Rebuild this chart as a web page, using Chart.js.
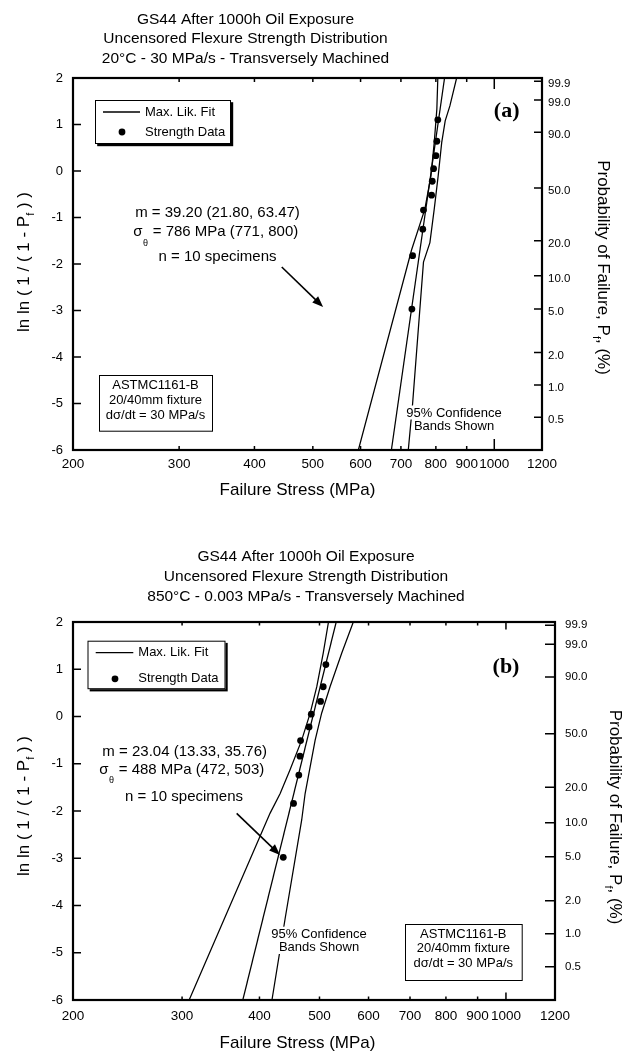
<!DOCTYPE html>
<html><head><meta charset="utf-8">
<script src="https://cdn.jsdelivr.net/npm/chart.js@4.4.1/dist/chart.umd.min.js"></script>
<style>
html,body{margin:0;padding:0;background:#fff;}
#wrap{position:relative;width:636px;height:1055px;background:#fff;}
canvas{position:absolute;left:0;}
</style></head><body>
<div id="wrap">
<canvas id="ca" width="636" height="525" style="top:0px"></canvas>
<canvas id="cb" width="636" height="530" style="top:525px"></canvas>
</div>
<script>
// ---------- shared axis data ----------
const xTickValues = [200, 300, 400, 500, 600, 700, 800, 900, 1000, 1200];
const xTickLabels = ['200', '300', '400', '500', '600', '700', '800', '900', '1000', '1200'];
const yTickValues = [-6, -5, -4, -3, -2, -1, 0, 1, 2];
const yTickLabels = ['-6', '-5', '-4', '-3', '-2', '-1', '0', '1', '2'];
const probTickPercent = [99.9, 99.0, 90.0, 50.0, 20.0, 10.0, 5.0, 2.0, 1.0, 0.5];
const probTickLabels = ['99.9', '99.0', '90.0', '50.0', '20.0', '10.0', '5.0', '2.0', '1.0', '0.5'];

// ---------- chart (a): 20°C - 30 MPa/s ----------
const aDataStress = [730, 732, 761, 763, 787, 789, 793, 800, 803, 806];
const aDataLnLn   = [-2.97, -1.82, -1.25, -0.84, -0.52, -0.22, 0.05, 0.33, 0.64, 1.10];
const aFitStress  = [675, 827];
const aFitLnLn    = [-6, 2];
const aLowStress  = [595, 729, 767, 785, 795, 803, 806];
const aLowLnLn    = [-6, -1.70, -0.82, -0.11, 0.61, 1.33, 2];
const aUpStress   = [720, 732, 763, 782, 795, 807, 818, 829, 844, 866];
const aUpLnLn     = [-6, -5.0, -1.96, -1.54, -0.82, -0.11, 0.61, 1.08, 1.40, 2];

// ---------- chart (b): 850°C - 0.003 MPa/s ----------
const bDataStress = [437, 454, 463, 465, 466, 481, 485, 502, 507, 512];
const bDataLnLn   = [-2.98, -1.84, -1.24, -0.84, -0.51, -0.22, 0.05, 0.32, 0.63, 1.10];
const bFitStress  = [376, 532];
const bFitLnLn    = [-6, 2];
const bLowStress  = [308, 416, 432, 448, 468, 483, 495, 507, 517];
const bLowLnLn    = [-6, -2.05, -1.63, -1.13, -0.50, 0.07, 0.63, 1.34, 2];
const bUpStress   = [419, 440, 468, 474, 483, 492, 504, 520, 543, 567];
const bUpLnLn     = [-6, -4.28, -2.19, -1.63, -1.06, -0.50, 0.07, 0.63, 1.34, 2];

const probTickValues = probTickPercent.map(p => Math.log(-Math.log(1 - p / 100)));

const FONT = '"Liberation Sans", Arial, Helvetica, sans-serif';
const SERIF = '"Liberation Serif", "Times New Roman", serif';

function rich(ctx, parts, cx, cy, rot, size) {
  ctx.save();
  ctx.translate(cx, cy);
  ctx.rotate(rot);
  let tot = 0; const ws = [];
  parts.forEach(p => {
    ctx.font = (p.sub ? size * 0.65 : size) + 'px ' + FONT;
    const w = ctx.measureText(p.t).width; ws.push(w); tot += w;
  });
  let x = -tot / 2;
  ctx.textAlign = 'left'; ctx.textBaseline = 'middle';
  parts.forEach((p, i) => {
    ctx.font = (p.sub ? size * 0.65 : size) + 'px ' + FONT;
    ctx.fillText(p.t, x, p.sub ? size * 0.38 : 0);
    x += ws[i];
  });
  ctx.restore();
}

function decoPlugin(d) {
  return {
    id: 'deco',
    afterDatasetsDraw(chart) {
      const ctx = chart.ctx, a = chart.chartArea;
      const xs = chart.scales.x, yl = chart.scales.y, yr = chart.scales.yR;
      ctx.save();
      ctx.strokeStyle = '#000'; ctx.fillStyle = '#000';
      // inward tick marks
      ctx.lineWidth = 1.5;
      ctx.beginPath();
      yl.ticks.forEach(t => { const p = yl.getPixelForValue(t.value); ctx.moveTo(a.left, p); ctx.lineTo(a.left + d.yTickLen, p); });
      yr.ticks.forEach(t => { const p = yr.getPixelForValue(t.value); ctx.moveTo(a.right, p); ctx.lineTo(a.right - d.rTickLen, p); });
      xs.ticks.forEach(t => {
        const p = xs.getPixelForValue(t.value);
        const L = t.value === 1000 ? d.xMajorLen : d.xTickLen;
        ctx.moveTo(p, a.bottom); ctx.lineTo(p, a.bottom - L);
        ctx.moveTo(p, a.top); ctx.lineTo(p, a.top + L);
      });
      ctx.stroke();
      // frame
      ctx.lineWidth = 2.2;
      ctx.strokeRect(a.left, a.top, a.right - a.left, a.bottom - a.top);

      // titles
      ctx.textAlign = 'center'; ctx.textBaseline = 'middle';
      ctx.font = d.titleSize + 'px ' + FONT;
      d.titles.forEach((t, i) => ctx.fillText(t, d.titleX, d.titleY[i]));

      // axis titles
      rich(ctx, [{t: 'ln ln ( 1 / ( 1 - P'}, {t: 'f', sub: true}, {t: ' ) )'}], d.yTitle.x, d.yTitle.y, -Math.PI / 2, 17);
      rich(ctx, [{t: 'Probability of Failure, P'}, {t: 'f', sub: true}, {t: ', (%)'}], d.rTitle.x, d.rTitle.y, Math.PI / 2, 17);
      ctx.font = '17px ' + FONT; ctx.textAlign = 'center'; ctx.textBaseline = 'middle';
      ctx.fillText('Failure Stress (MPa)', d.xTitle.x, d.xTitle.y);

      // legend box with shadow
      const L = d.legend;
      ctx.fillStyle = '#000';
      ctx.fillRect(L.x + 2.2, L.y + 2.2, L.w, L.h);
      ctx.fillStyle = '#fff';
      ctx.fillRect(L.x, L.y, L.w, L.h);
      ctx.lineWidth = 1; ctx.strokeStyle = '#000';
      ctx.strokeRect(L.x + 0.5, L.y + 0.5, L.w - 1, L.h - 1);
      ctx.fillStyle = '#000';
      ctx.lineWidth = 1.3;
      ctx.beginPath(); ctx.moveTo(L.lineX1, L.row1); ctx.lineTo(L.lineX2, L.row1); ctx.stroke();
      ctx.beginPath(); ctx.arc(L.dotX, L.row2, 3.4, 0, Math.PI * 2); ctx.fill();
      ctx.font = '13px ' + FONT; ctx.textAlign = 'left'; ctx.textBaseline = 'middle';
      ctx.fillText('Max. Lik. Fit', L.textX, L.row1);
      ctx.fillText('Strength Data', L.textX, L.row2);

      // statistics text
      const S = d.stats;
      ctx.font = '15px ' + FONT; ctx.textAlign = 'center';
      ctx.fillText(d.mText, S.mX, S.mY);
      ctx.fillText('n = 10 specimens', S.nX, S.nY);
      ctx.textAlign = 'left';
      ctx.fillText('σ', S.sX, S.sY);
      const w1 = ctx.measureText('σ').width;
      ctx.font = '9px ' + FONT;
      ctx.fillText('θ', S.sX + w1 + 0.5, S.sY + S.subDy);
      const w2 = ctx.measureText('θ').width;
      ctx.font = '15px ' + FONT;
      ctx.fillText(d.sText, S.sX + w1 + w2 + 1, S.sY);

      // arrow (data coordinates)
      const ar = d.arrow;
      const x1 = xs.getPixelForValue(ar.x1), y1 = yl.getPixelForValue(ar.y1);
      const x2 = xs.getPixelForValue(ar.x2), y2 = yl.getPixelForValue(ar.y2);
      const ang = Math.atan2(y2 - y1, x2 - x1);
      const hl = 11, hw = 4.2;
      ctx.lineWidth = 1.6;
      ctx.beginPath(); ctx.moveTo(x1, y1);
      ctx.lineTo(x2 - hl * 0.8 * Math.cos(ang), y2 - hl * 0.8 * Math.sin(ang)); ctx.stroke();
      ctx.beginPath();
      ctx.moveTo(x2, y2);
      ctx.lineTo(x2 - hl * Math.cos(ang) + hw * Math.sin(ang), y2 - hl * Math.sin(ang) - hw * Math.cos(ang));
      ctx.lineTo(x2 - hl * Math.cos(ang) - hw * Math.sin(ang), y2 - hl * Math.sin(ang) + hw * Math.cos(ang));
      ctx.closePath(); ctx.fill();

      // ASTM box
      const B = d.astm;
      ctx.fillStyle = '#fff'; ctx.fillRect(B.x, B.y, B.w, B.h);
      ctx.lineWidth = 1; ctx.strokeRect(B.x + 0.5, B.y + 0.5, B.w, B.h);
      ctx.fillStyle = '#000';
      ctx.font = '13px ' + FONT; ctx.textAlign = 'center';
      ['ASTMC1161-B', '20/40mm fixture', 'dσ/dt = 30 MPa/s'].forEach((t, i) => ctx.fillText(t, B.cx, B.rows[i]));

      // confidence band note with white background
      const C = d.conf;
      ['95% Confidence', 'Bands Shown'].forEach((t, i) => {
        const w = ctx.measureText(t).width;
        ctx.fillStyle = '#fff';
        ctx.fillRect(C.cx - w / 2 - 1, C.rows[i] - 7.5, w + 2, 14);
      });
      ctx.fillStyle = '#000';
      ['95% Confidence', 'Bands Shown'].forEach((t, i) => ctx.fillText(t, C.cx, C.rows[i]));

      // panel tag
      ctx.font = 'bold ' + d.tag.size + 'px ' + SERIF;
      ctx.fillText(d.tag.t, d.tag.x, d.tag.y);
      ctx.restore();
    }
  };
}

function pts(xs, ys) { return xs.map((v, i) => ({x: v, y: ys[i]})); }

function makeChart(id, S, d) {
  const lineDs = (label, data) => ({label, data, showLine: true, borderColor: '#000', borderWidth: 1.25,
    pointRadius: 0, pointHoverRadius: 0, tension: 0, fill: false});
  return new Chart(document.getElementById(id), {
    type: 'scatter',
    data: {datasets: [
      lineDs('Max. Lik. Fit', pts(S.fitX, S.fitY)),
      lineDs('95% lower band', pts(S.loX, S.loY)),
      lineDs('95% upper band', pts(S.upX, S.upY)),
      {label: 'Strength Data', data: pts(S.dX, S.dY), showLine: false, pointRadius: 3.4,
        pointBackgroundColor: '#000', pointBorderWidth: 0, pointBorderColor: '#000'}
    ]},
    options: {
      responsive: false, animation: false, devicePixelRatio: 1,
      layout: {padding: d.pad},
      plugins: {legend: {display: false}, tooltip: {enabled: false}, title: {display: false}},
      scales: {
        x: {type: 'logarithmic', position: 'bottom', min: 200, max: 1200,
          afterBuildTicks: s => { s.ticks = xTickValues.map(v => ({value: v})); },
          afterFit: s => { s.height = 30; },
          grid: {display: false, drawTicks: false}, border: {display: false},
          ticks: {autoSkip: false, maxRotation: 0, minRotation: 0, padding: d.xPad, color: '#000',
            font: {family: FONT, size: 13.5}, callback: (v, i) => xTickLabels[i]}},
        y: {type: 'linear', position: 'left', min: -6, max: 2,
          afterBuildTicks: s => { s.ticks = yTickValues.map(v => ({value: v})); },
          afterFit: s => { s.width = 60; },
          grid: {display: false, drawTicks: false}, border: {display: false},
          ticks: {padding: 10, color: '#000', font: {family: FONT, size: 13}, callback: (v, i) => yTickLabels[i]}},
        yR: {type: 'linear', position: 'right', min: -6, max: 2,
          afterBuildTicks: s => { s.ticks = probTickValues.map(v => ({value: v})); },
          afterFit: s => { s.width = 60; },
          grid: {display: false, drawTicks: false}, border: {display: false},
          ticks: {padding: d.rPad, labelOffset: d.rOffset, color: '#000', font: {family: FONT, size: 11.5},
            callback: (v, i) => probTickLabels[i]}}
      }
    },
    plugins: [decoPlugin(d)]
  });
}

makeChart('ca', {
  fitX: aFitStress, fitY: aFitLnLn, loX: aLowStress, loY: aLowLnLn, upX: aUpStress, upY: aUpLnLn,
  dX: aDataStress, dY: aDataLnLn
}, {
  pad: {left: 13, right: 34, top: 78, bottom: 45},
  xPad: 6, rPad: 6, rOffset: 3,
  yTickLen: 8, rTickLen: 8, xTickLen: 4, xMajorLen: 11,
  titles: ['GS44 After 1000h Oil Exposure', 'Uncensored Flexure Strength Distribution', '20°C - 30 MPa/s - Transversely Machined'],
  titleX: 245.5, titleY: [20, 39.2, 58.4], titleSize: 15.5,
  legend: {x: 95, y: 100, w: 136, h: 44, lineX1: 103, lineX2: 140, row1: 112, dotX: 122, row2: 132, textX: 145},
  mText: 'm = 39.20 (21.80, 63.47)', sText: ' = 786 MPa (771, 800)',
  stats: {mX: 217.5, mY: 212.7, sX: 133.3, sY: 231.7, subDy: 11.5, nX: 217.5, nY: 257},
  astm: {x: 99, y: 375, w: 113, h: 55.7, cx: 155.5, rows: [385.3, 400.3, 415.5]},
  conf: {cx: 454, rows: [413, 426.3]},
  tag: {t: '(a)', x: 506.7, y: 111, size: 22},
  arrow: {x1: 444, y1: -2.065, x2: 520, y2: -2.925},
  yTitle: {x: 24, y: 262}, rTitle: {x: 603, y: 267.5}, xTitle: {x: 297.5, y: 490.5}
});

makeChart('cb', {
  fitX: bFitStress, fitY: bFitLnLn, loX: bLowStress, loY: bLowLnLn, upX: bUpStress, upY: bUpLnLn,
  dX: bDataStress, dY: bDataLnLn
}, {
  pad: {left: 13, right: 21, top: 97, bottom: 25},
  xPad: 8.5, rPad: 10, rOffset: 0,
  yTickLen: 8, rTickLen: 10, xTickLen: 3.5, xMajorLen: 7.5,
  titles: ['GS44 After 1000h Oil Exposure', 'Uncensored Flexure Strength Distribution', '850°C - 0.003 MPa/s - Transversely Machined'],
  titleX: 306, titleY: [31.7, 51.7, 71.7], titleSize: 15.5,
  legend: {x: 87.5, y: 115.7, w: 138, h: 48.5, lineX1: 95.7, lineX2: 133.3, row1: 127.6, dotX: 115, row2: 153.8, textX: 138.3},
  mText: 'm = 23.04 (13.33, 35.76)', sText: ' = 488 MPa (472, 503)',
  stats: {mX: 184.7, mY: 226.7, sX: 99.3, sY: 245, subDy: 10.7, nX: 184, nY: 271.7},
  astm: {x: 405, y: 399, w: 116.7, h: 56, cx: 463.3, rows: [409, 423.3, 438.7]},
  conf: {cx: 319, rows: [409.2, 422.5]},
  tag: {t: '(b)', x: 506, y: 142.5, size: 22},
  arrow: {x1: 367.5, y1: -2.049, x2: 431.7, y2: -2.931},
  yTitle: {x: 24, y: 281}, rTitle: {x: 615, y: 292}, xTitle: {x: 297.5, y: 518}
});
</script>
</body></html>
